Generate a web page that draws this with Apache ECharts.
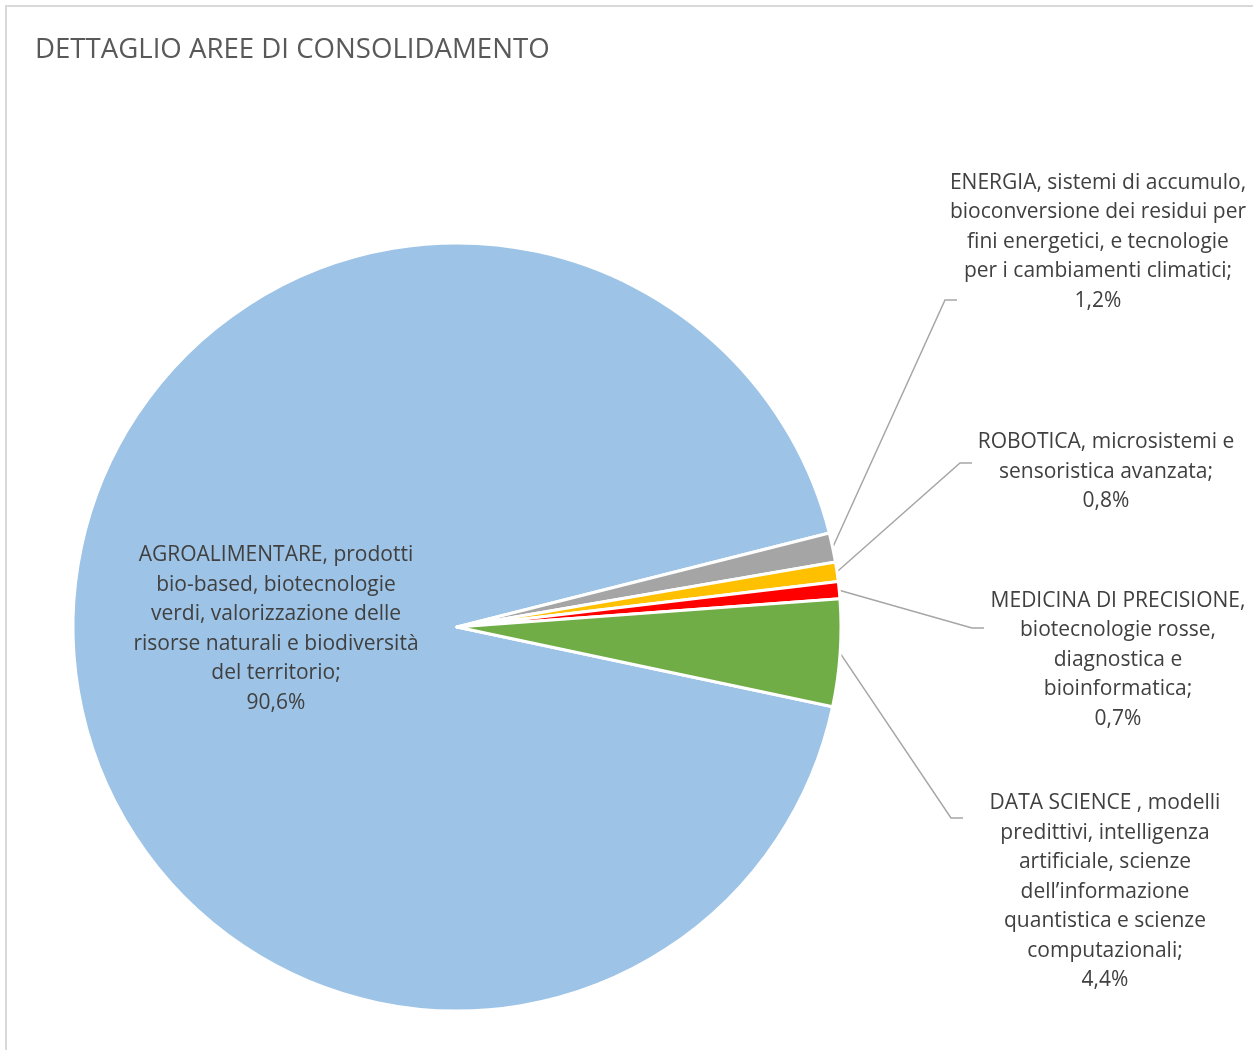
<!DOCTYPE html>
<html>
<head>
<meta charset="utf-8">
<script src="https://cdn.jsdelivr.net/npm/echarts@6/dist/echarts.min.js"></script>
<style>
  html, body { margin: 0; padding: 0; background: #fff; overflow: hidden; }
  #frame { position: absolute; left: 5px; top: 5px; width: 1270px; height: 1070px; border: 2px solid #D9D9D9; box-sizing: border-box; }
  #chart { position: absolute; left: 0; top: 0; width: 1253px; height: 1050px; }
</style>
</head>
<body>
<div id="frame"></div>
<div id="chart"></div>
<script>
  // nomi (con gli a capo come nel grafico originale)
  var areaNames = [
    'AGROALIMENTARE, prodotti\nbio-based, biotecnologie\nverdi, valorizzazione delle\nrisorse naturali e biodiversità\ndel territorio',
    'ENERGIA, sistemi di accumulo,\nbioconversione dei residui per\nfini energetici, e tecnologie\nper i cambiamenti climatici',
    'ROBOTICA, microsistemi e\nsensoristica avanzata',
    'MEDICINA DI PRECISIONE,\nbiotecnologie rosse,\ndiagnostica e\nbioinformatica',
    'DATA SCIENCE , modelli\npredittivi, intelligenza\nartificiale, scienze\ndell’informazione\nquantistica e scienze\ncomputazionali'
  ]
  var areaValues = [90.6, 1.2, 0.8, 0.7, 4.4]
  var areaColors = ['#9DC3E6', '#A5A5A5', '#FFC000', '#FF0000', '#70AD47']

  // posizione delle etichette (centro del blocco di testo) e gomito delle linee guida
  var labelPos = [[276, 629], [1098, 242], [1106, 472], [1118, 660], [1105, 892]]
  var lineElbow = [null, [945, 300], [960, 463], [972, 628], [951, 818]]

  var chart = echarts.init(document.getElementById('chart'))
  var pieData = []
  for (var i = 0; i < areaNames.length; i++) {
    pieData.push({
      name: areaNames[i],
      value: areaValues[i],
      itemStyle: { color: areaColors[i] },
      label: i === 0 ? { position: 'inside' } : { position: 'outside' },
      labelLine: { show: i !== 0 }
    })
  }

  var option = {
    animation: false,
    title: {
      text: 'DETTAGLIO AREE DI CONSOLIDAMENTO',
      left: 30,
      top: 31,
      textStyle: {
        fontFamily: 'Open Sans',
        fontSize: 27.6,
        fontWeight: 'normal',
        color: '#595959'
      }
    },
    series: [{
      type: 'pie',
      center: [457, 627],
      radius: 384,
      startAngle: -12,
      clockwise: true,
      avoidLabelOverlap: false,
      data: pieData,
      itemStyle: {
        borderColor: '#ffffff',
        borderWidth: 3
      },
      label: {
        show: true,
        formatter: function (p) {
          return p.name + ';\n' + String(p.value).replace('.', ',') + '%'
        },
        fontFamily: 'Open Sans',
        fontSize: 21,
        lineHeight: 29.5,
        color: '#404040',
        align: 'center'
      },
      labelLine: {
        lineStyle: { color: '#A6A6A6', width: 1.5 },
        length: 20,
        length2: 12
      },
      labelLayout: function (params) {
        var pos = labelPos[params.dataIndex]
        var res = {
          x: pos[0],
          y: pos[1],
          align: 'center',
          verticalAlign: 'middle'
        }
        var elbow = lineElbow[params.dataIndex]
        if (elbow && params.labelLinePoints) {
          res.labelLinePoints = [
            params.labelLinePoints[0],
            elbow,
            [elbow[0] + 12, elbow[1]]
          ]
        }
        return res
      }
    }]
  }
  chart.setOption(option)
</script>
</body>
</html>
